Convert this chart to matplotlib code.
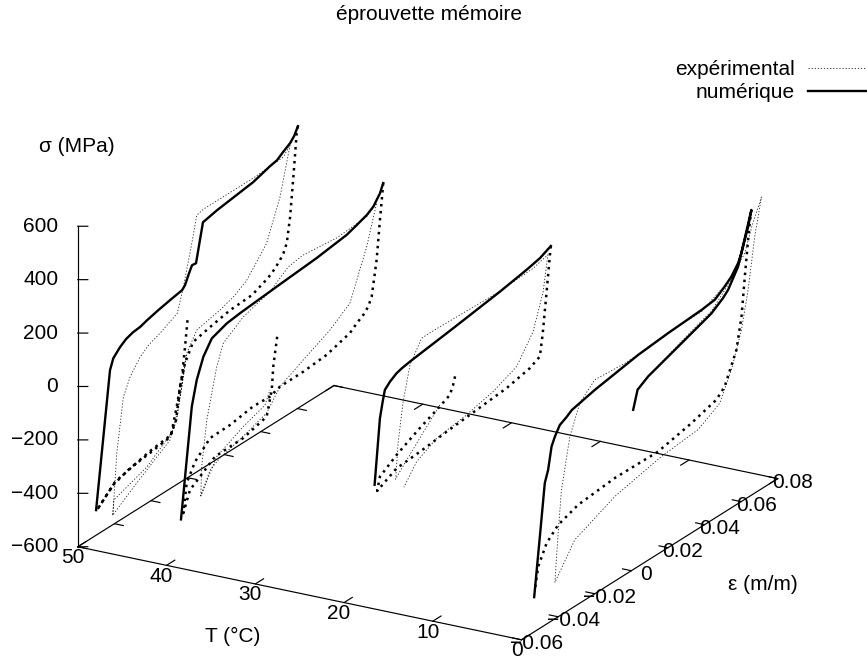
import matplotlib
matplotlib.use("Agg")
import matplotlib.pyplot as plt
from matplotlib.lines import Line2D
from mpl_toolkits.mplot3d import Axes3D, proj3d  # noqa

plt.rcParams['font.family'] = ['Liberation Sans', 'DejaVu Sans']
plt.rcParams['font.size'] = 15

W, H = 867, 659

# temperature levels of the four cycles
temps = [50, 40, 20, 0]

# T = 50
exp_eps_50 = [-.0409, -.0403, -.0387, -.0351, -.0314, -.0260, -.0214, -.0150, -.0056, -.0023, .0023, .0050, .0086, .0359, .0523, .0560,
              .0505, .0432, .0374, .0323, .0254, .0177, .0050, -.0005, -.0032, -.0059, -.0087, -.0223, -.0403, -.0409,
              -.0278, -.0096, -.0063, -.0030, -.0008]
exp_sig_50 = [-564, -510, -341, -147, -87, -37, -12, 6, 40, 124, 268, 361, 368, 367, 375, 404,
              233, 92, 42, 0, -30, -49, -69, -132, -247, -359, -395, -464, -510, -564,
              -500, -418, -349, -240, -137]
load_eps_50 = [-.0500, -.0424, -.0406, -.0369, -.0336, -.0298, -.0260, -.0221, -.0161, -.0096, -.0030, -.0014, .0008, .0024, .0046, .0084,
               .0161, .0259, .0358, .0450, .0489, .0521, .0560, .0582, .0603]
load_sig_50 = [-506, -15, 22, 48, 64, 73, 76, 85, 96, 106, 115, 127, 162, 185, 183, 320,
               332, 342, 352, 372, 378, 394, 411, 428, 456]
unload_eps_50 = [.0603, .0596, .0578, .0560, .0542, .0524, .0505, .0475, .0439, .0352, .0232, .0123, .0030, -.0014, -.0041, -.0063,
                 -.0096, -.0205, -.0314, -.0407, -.0495, -.0396, -.0205, -.0090, -.0058, -.0030, -.0014, .0001]
unload_sig_50 = [456, 433, 277, 134, 45, 15, -3, -24, -42, -68, -73, -89, -105, -165, -243, -357,
                 -407, -419, -429, -452, -508, -445, -412, -401, -303, -203, -105, 1]

# T = 40
exp_eps_40 = [-.0413, -.0408, -.0380, -.0326, -.0290, -.0180, -.0035, .0065, .0147, .0330, .0494, .0548,
              .0494, .0402, .0293, .0147, .0020, -.0053, -.0162, -.0308, -.0362, -.0413,
              -.0326, -.0180, -.0062, -.0035]
exp_sig_40 = [-421, -313, -151, 25, 98, 150, 181, 231, 240, 225, 234, 262,
              122, -50, -104, -153, -198, -265, -293, -324, -345, -421,
              -311, -261, -232, -187]
load_eps_40 = [-.0521, -.0490, -.0462, -.0435, -.0399, -.0353, -.0271, -.0199, .0002, .0220, .0384, .0439, .0494, .0530, .0566, .0584]
load_sig_40 = [-462, -253, -65, 23, 94, 143, 164, 171, 184, 197, 213, 226, 240, 256, 290, 321]
unload_eps_40 = [.0584, .0581, .0566, .0548, .0521, .0501, .0475, .0441, .0402, .0275, .0147, .0020, -.0035, -.0128, -.0253, -.0362,
                 -.0444, -.0490, -.0508, -.0472, -.0335, -.0180, -.0053, -.0025, -.0017, .0005]
unload_sig_40 = [321, 296, 190, 49, -77, -107, -126, -141, -162, -189, -197, -198, -212, -209, -224, -226,
                 -279, -339, -444, -373, -307, -304, -279, -191, -108, -2]

# T = 20
exp_eps_20 = [-.0076, -.0185, -.0306, -.0318, -.0304, -.0277, -.0240, -.0176, -.0131, .0033, .0234, .0433, .0514,
              .0488, .0433, .0343, .0215, .0070, -.0094, -.0203, -.0273]
exp_sig_20 = [-86, -162, -249, -260, -125, 13, 134, 207, 208, 204, 199, 206, 222,
              95, -31, -123, -161, -186, -203, -243, -309]
load_eps_20 = [-.0433, -.0404, -.0389, -.0377, -.0349, -.0313, -.0285, -.0240, -.0004, .0252, .0397, .0470, .0530]
load_sig_20 = [-231, 5, 61, 100, 119, 135, 141, 147, 170, 197, 216, 228, 248]
unload_eps_20 = [.0530, .0525, .0507, .0485, .0470, .0415, .0288, .0124, -.0040, -.0185, -.0313, -.0419,
                 -.0404, -.0313, -.0195, -.0085, -.0022, -.0004, .0011]
unload_sig_20 = [248, 217, 87, -65, -140, -160, -180, -191, -202, -214, -221, -260,
                 -213, -171, -128, -94, -72, -42, -3]

# T = 0
exp_eps_0 = [.0090, .0292, .0439, .0549, .0620, .0658, .0711,
             .0674, .0638, .0602, .0547, .0483, .0365, .0165, -.0090, -.0309, -.0418,
             -.0400, -.0382, -.0336, -.0282, -.0200, -.0036, .0035, .0199, .0383, .0547]
exp_sig_0 = [87, 146, 184, 256, 323, 404, 493,
             360, 177, 43, -83, -181, -229, -243, -283, -351, -464,
             -287, -133, 47, 149, 201, 192, 193, 205, 205, 261]
load_eps_0 = [-.0531, -.0500, -.0473, -.0455, -.0436, -.0418, -.0391, -.0354, -.0325, -.0200, .0037, .0201, .0383, .0456, .0510, .0547, .0583, .0602, .0620, .0638, .0656,
              .0583, .0529, .0501, .0438, .0292, .0092, .0034, .0010]
load_sig_0 = [-470, -257, -68, -27, 53, 82, 114, 128, 142, 163, 192, 203, 211, 218, 244, 266, 300, 330, 372, 413, 468,
              287, 224, 205, 175, 138, 88, 63, -2]
unload_eps_0 = [.0656, .0647, .0638, .0620, .0602, .0574, .0510, .0465, .0329, .0146, -.0090, -.0291, -.0400, -.0463,
                -.0509, -.0527]
unload_sig_0 = [468, 424, 364, 234, 92, -21, -130, -160, -189, -217, -214, -228, -256, -297, -365, -444]

exp_eps = [exp_eps_50, exp_eps_40, exp_eps_20, exp_eps_0]
exp_sig = [exp_sig_50, exp_sig_40, exp_sig_20, exp_sig_0]
load_eps = [load_eps_50, load_eps_40, load_eps_20, load_eps_0]
load_sig = [load_sig_50, load_sig_40, load_sig_20, load_sig_0]
unload_eps = [unload_eps_50, unload_eps_40, unload_eps_20, unload_eps_0]
unload_sig = [unload_sig_50, unload_sig_40, unload_sig_20, unload_sig_0]

t_ticks = [50, 40, 30, 20, 10, 0]
eps_ticks = [-.06, -.04, -.02, 0, .02, .04, .06, .08]
eps_labels = ['\u22120.06', '\u22120.04', '\u22120.02', '0', '0.02', '0.04', '0.06', '0.08']
sig_ticks = [-600, -400, -200, 0, 200, 400, 600]
sig_labels = ['\u2212600', '\u2212400', '\u2212200', '0', '200', '400', '600']

thin_dots = dict(color='#222222', lw=0.6, ls=(0, (1.5, 2.2)))
thick_dots = dict(color='black', lw=1.8, ls=(0, (1, 1.8)))
solid = dict(color='black', lw=1.7, ls='-')
frame = dict(color='black', lw=0.85)

fig = plt.figure(figsize=(W / 100, H / 100), dpi=100)
side = 778.7
ax = fig.add_axes([27.9 / W, -93.3 / H, side / W, side / H], projection='3d',
                  proj_type='ortho', computed_zorder=False)
ax.set_xlim(50, 0)
ax.set_ylim(-.06, .08)
ax.set_zlim(-600, 600)
ax.set_box_aspect((1, 1, .6713))
ax.view_init(elev=21.3, azim=-60)
ax.set_axis_off()
proj = ax.get_proj()


def label3d(t, e, s, text, dx, dy, ha='center'):
    # text a few pixels away from a 3d point (dy counted downwards)
    px, py, _ = proj3d.proj_transform(t, e, s, proj)
    ax.annotate(text, xy=(px, py), xycoords='data', xytext=(dx, -dy),
                textcoords='offset pixels', ha=ha, va='center', annotation_clip=False)


# base and vertical axis
ax.plot([50, 0, 0, 50, 50], [-.06, -.06, .08, .08, -.06], [-600] * 5, **frame)
ax.plot([50, 50], [-.06, -.06], [-600, 600], **frame)

for t in t_ticks:
    ax.plot([t, t], [-.06, -.0555], [-600, -600], **frame)
    ax.plot([t, t], [.08, .0755], [-600, -600], **frame)
    label3d(t, -.06, -600, str(t), -5, 11)
for e, lab in zip(eps_ticks, eps_labels):
    ax.plot([0, 1], [e, e], [-600, -600], **frame)
    ax.plot([50, 49], [e, e], [-600, -600], **frame)
    label3d(0, e, -600, lab, 15, 4)
for s, lab in zip(sig_ticks, sig_labels):
    ax.plot([50, 49.156], [-.06, -.05863], [s, s], **frame)
    label3d(50, -.06, s, lab, -19.5, 0, ha='right')

# the cycles
for i, t in enumerate(temps):
    ax.plot([t] * len(exp_eps[i]), exp_eps[i], exp_sig[i], **thin_dots)
    ax.plot([t] * len(unload_eps[i]), unload_eps[i], unload_sig[i], **thick_dots)
    ax.plot([t] * len(load_eps[i]), load_eps[i], load_sig[i], **solid)

fig.text(429 / W, 1 - 15 / H, 'éprouvette mémoire', ha='center', va='center')
fig.text(233 / W, 1 - 636 / H, 'T (°C)', ha='center', va='center')
fig.text(763 / W, 1 - 584 / H, 'ε (m/m)', ha='center', va='center')
fig.text(77 / W, 1 - 147 / H, 'σ (MPa)', ha='center', va='center')

handles = [Line2D([], [], **thin_dots), Line2D([], [], **solid)]
fig.legend(handles, ['expérimental', 'numérique'], loc='upper right',
           bbox_to_anchor=(1.0, 1 - 60 / H), frameon=False, markerfirst=False,
           handlelength=2.85, handletextpad=0.6, borderaxespad=0, borderpad=0,
           labelspacing=0.2, fontsize=15)

fig.savefig('out.png', dpi=100)
